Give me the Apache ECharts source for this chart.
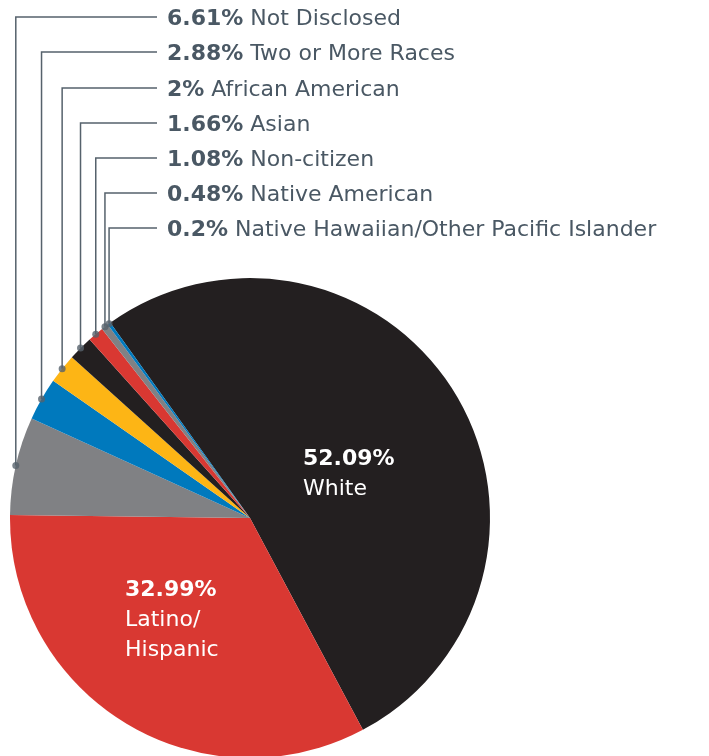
<!DOCTYPE html>
<html>
<head>
<meta charset="utf-8">
<script src="https://cdn.jsdelivr.net/npm/echarts@6/dist/echarts.min.js"></script>
<style>
  html, body { margin: 0; padding: 0; background: #fff; }
  #chart { width: 709px; height: 756px; }
</style>
</head>
<body>
<div id="chart"></div>
<script>
const groups = ['White', 'Latino/\nHispanic', 'Not Disclosed', 'Two or More Races', 'African American',
  'Asian', 'Non-citizen', 'Native American', 'Native Hawaiian/Other Pacific Islander']
const shares = [52.09, 32.99, 6.61, 2.88, 2, 1.66, 1.08, 0.48, 0.2]
const shareLabels = ['52.09%', '32.99%', '6.61%', '2.88%', '2%', '1.66%', '1.08%', '0.48%', '0.2%']
const sliceColors = ['#231f20', '#d93832', '#808184', '#0079bd', '#fdb515', '#231f20', '#d93832', '#808184', '#0079bd']

const textColor = '#4a5864'
const lineColor = '#56626c'
const font = 'DejaVu Sans'
const center = [250, 518]
const radius = 240
const startAngle = 125.6

// label placement
const insidePos = [[303, 444], [125, 575]]
const outerY = [17, 52, 88, 123, 158, 193, 228]
const lineEndX = 157
const labelX = 167

const total = shares.reduce((a, b) => a + b, 0)
// mid position of each small slice on the angle scale, for the leader dots
const dots = []
let acc = 0
shares.forEach((v, i) => {
  if (i >= 2) dots.push([1, acc + v / 2])
  acc += v
})

const chart = echarts.init(document.getElementById('chart'))

chart.setOption({
  animation: false,
  polar: { center: center, radius: radius },
  angleAxis: { type: 'value', min: 0, max: total, startAngle: startAngle, clockwise: true, show: false },
  radiusAxis: { type: 'value', min: 0, max: 1, show: false },
  series: [
    {
      type: 'pie',
      center: center,
      radius: radius,
      startAngle: startAngle,
      clockwise: true,
      avoidLabelOverlap: false,
      data: shares.map((v, i) => ({
        value: v,
        name: groups[i],
        itemStyle: { color: sliceColors[i] },
        label: i < 2 ? { position: 'inside', color: '#fff' } : undefined,
        labelLine: i < 2 ? { show: false } : undefined
      })),
      label: {
        show: true,
        position: 'outside',
        color: textColor,
        fontFamily: font,
        formatter: (p) => labelText(p.dataIndex),
        rich: {
          b: { fontFamily: font, fontWeight: 'bold', fontSize: 22, lineHeight: 30 },
          r: { fontFamily: font, fontSize: 22, lineHeight: 30 }
        }
      },
      labelLine: {
        show: true,
        length: 10,
        length2: 10,
        lineStyle: { color: lineColor, width: 1.5 }
      },
      labelLayout: (p) => {
        const i = p.dataIndex
        if (i < 2) {
          return { x: insidePos[i][0], y: insidePos[i][1], align: 'left', verticalAlign: 'top' }
        }
        const y = outerY[i - 2]
        const p0 = p.labelLinePoints ? p.labelLinePoints[0] : [0, 0]
        return {
          x: labelX,
          y: y + 2,
          align: 'left',
          verticalAlign: 'middle',
          labelLinePoints: [p0, [p0[0], y], [lineEndX, y]]
        }
      }
    },
    {
      type: 'scatter',
      coordinateSystem: 'polar',
      symbolSize: 7,
      itemStyle: { color: lineColor },
      data: dots,
      silent: true,
      z: 5
    }
  ]
})

function labelText(i) {
  if (i < 2) {
    const lines = groups[i].split('\n').map((s) => '{r|' + s + '}')
    return '{b|' + shareLabels[i] + '}\n' + lines.join('\n')
  }
  return '{b|' + shareLabels[i] + '}{r| ' + groups[i] + '}'
}
</script>
</body>
</html>
